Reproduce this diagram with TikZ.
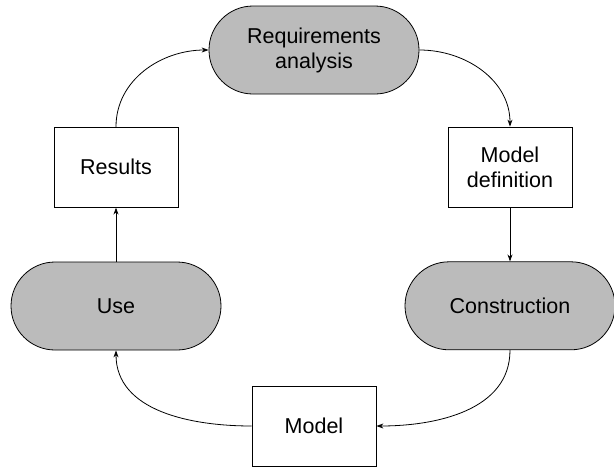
\documentclass[tikz,border=0pt]{standalone}
\usepackage{fontspec}
\setmainfont{Liberation Sans}
\usetikzlibrary{positioning,arrows.meta}
\definecolor{stagegray}{RGB}{187,187,187}

\begin{document}
\begin{tikzpicture}[x=1pt,y=1pt,
  flow/.style={draw,-{Stealth[length=7pt,width=5pt]},line width=0.8pt},
  every node/.style={draw,line width=0.8pt,align=center,font=\fontsize{21.5}{25}\selectfont},
  stage/.style={fill=stagegray,rounded corners=44pt,minimum width=210pt,minimum height=88pt},
  item/.style={fill=white,minimum width=124pt,minimum height=80pt}]
  \useasboundingbox (0,0) rectangle (614,-467);
  \node[stage] (req) at (314,-50) {Requirements\\analysis};
  \node[item] (def) at (510,-167) {Model\\definition};
  \node[stage] (con) [below=54pt of def] {Construction};
  \node[item] (mod) at (314,-426) {Model};
  \node[stage] (use) at (116,-306) {Use};
  \node[item] (res) [above=54pt of use] {Results};
  \draw[flow] (req.east) to[out=0,in=90] (def.north);
  \draw[flow] (def) -- (con);
  \draw[flow] (con.south) to[out=-90,in=0] (mod.east);
  \draw[flow] (mod.west) to[out=180,in=-90] (use.south);
  \draw[flow] (use) -- (res);
  \draw[flow] (res.north) to[out=90,in=180] (req.west);
\end{tikzpicture}
\end{document}
